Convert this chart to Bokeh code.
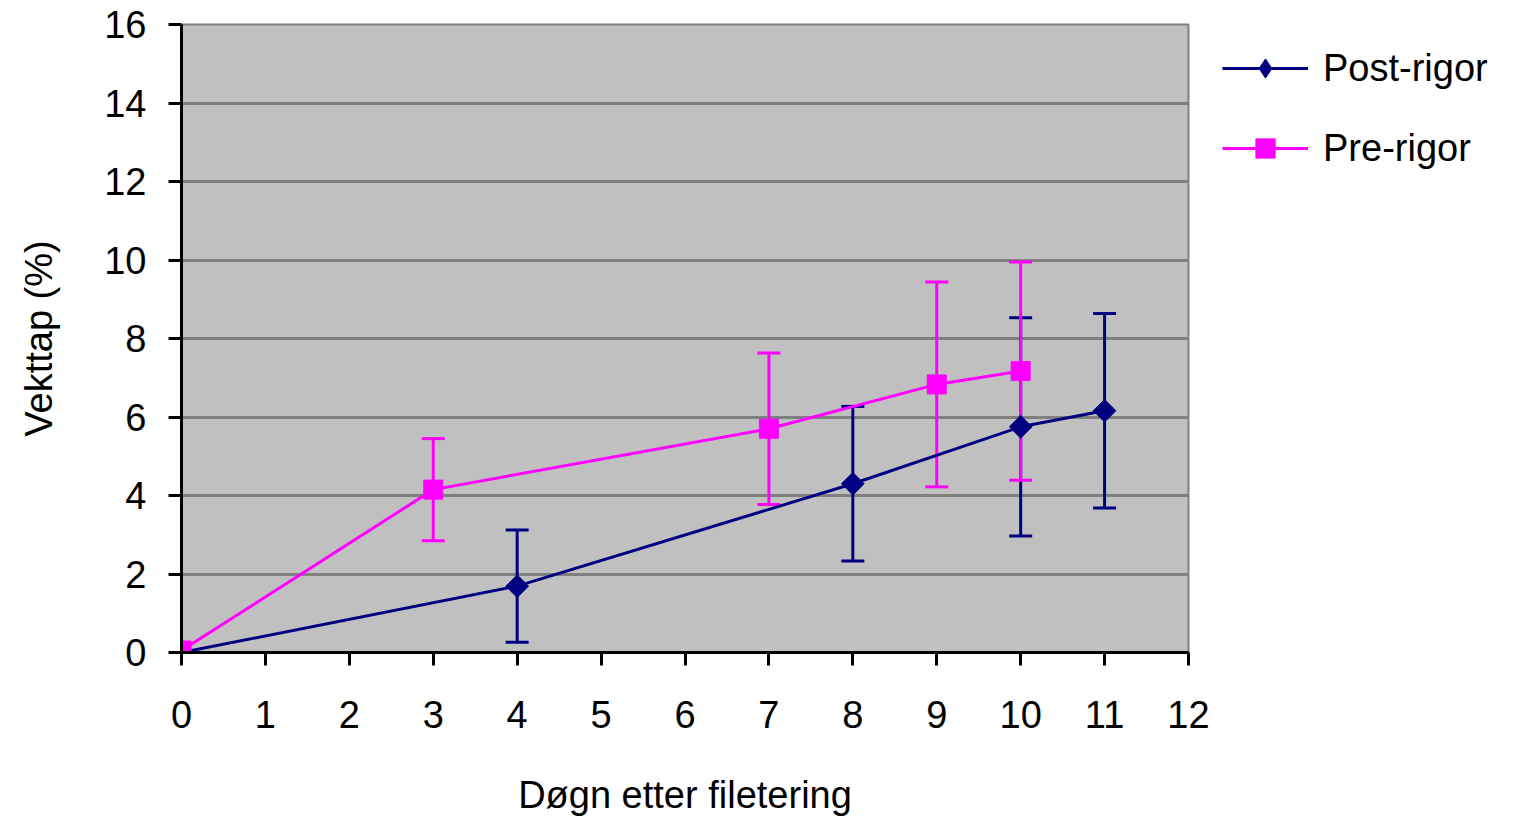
import numpy as np
from bokeh.plotting import figure
from bokeh.layouts import row
from bokeh.models import (ColumnDataSource, Whisker, TeeHead, Legend, LegendItem,
                          FixedTicker, Range1d)
from bokeh.embed import file_html
from bokeh.resources import INLINE

# ---- data ----
days_post = [0, 4, 8, 10, 11]
loss_post = [0.0, 1.69, 4.30, 5.75, 6.16]
err_post = [0.0, 1.43, 1.97, 2.78, 2.48]

days_pre = [0, 3, 7, 9, 10]
loss_pre = [0.05, 4.15, 5.70, 6.83, 7.17]
err_pre = [0.0, 1.30, 1.93, 2.61, 2.78]

x_ticks = list(range(0, 13))
y_ticks = list(range(0, 17, 2))

NAVY = "#000080"
MAGENTA = "#FF00FF"
FONT = "Liberation Sans"
FS = "38px"

src_post = ColumnDataSource(dict(
    x=days_post, y=loss_post,
    lo=[v - e for v, e in zip(loss_post, err_post)],
    hi=[v + e for v, e in zip(loss_post, err_post)]))
src_pre = ColumnDataSource(dict(
    x=days_pre, y=loss_pre,
    lo=[v - e for v, e in zip(loss_pre, err_pre)],
    hi=[v + e for v, e in zip(loss_pre, err_pre)]))

# ---------------- main chart ----------------
p = figure(width=1215, height=831, output_backend="svg", toolbar_location=None,
           x_range=Range1d(0, 12), y_range=Range1d(0, 16),
           min_border_left=181, min_border_right=27,
           min_border_top=24, min_border_bottom=179)

p.background_fill_color = "#C0C0C0"
p.border_fill_color = "white"
p.outline_line_color = "#808080"
p.outline_line_width = 2

p.xgrid.grid_line_color = None
p.ygrid.grid_line_color = "#808080"
p.ygrid.grid_line_width = 3

for ax in (p.xaxis[0], p.yaxis[0]):
    ax.axis_line_color = "black"
    ax.axis_line_width = 3
    ax.major_tick_line_color = "black"
    ax.major_tick_line_width = 3
    ax.major_tick_in = 0
    ax.major_tick_out = 13
    ax.minor_tick_line_color = None
    ax.major_label_text_font = FONT
    ax.major_label_text_font_size = FS
    ax.major_label_text_color = "black"
    ax.axis_label_text_font = FONT
    ax.axis_label_text_font_size = FS
    ax.axis_label_text_font_style = "normal"
    ax.axis_label_text_color = "black"

p.xaxis[0].ticker = FixedTicker(ticks=x_ticks)
p.yaxis[0].ticker = FixedTicker(ticks=y_ticks)
p.xaxis[0].major_label_standoff = 35
p.yaxis[0].major_label_standoff = 22
p.xaxis[0].axis_label = "Døgn etter filetering"
p.yaxis[0].axis_label = "Vekttap (%)"
p.xaxis[0].axis_label_standoff = 43
p.yaxis[0].axis_label_standoff = 41

# error bars
for src, col in ((src_post, NAVY), (src_pre, MAGENTA)):
    w = Whisker(source=src, base="x", upper="hi", lower="lo", dimension="height",
                line_color=col, line_width=3,
                upper_head=TeeHead(size=23, line_color=col, line_width=3),
                lower_head=TeeHead(size=23, line_color=col, line_width=3))
    p.add_layout(w)

p.line("x", "y", source=src_post, line_color=NAVY, line_width=3)
p.scatter("x", "y", source=src_post, marker="square", angle=np.pi / 4,
          size=16, fill_color=NAVY, line_color=NAVY)
p.line("x", "y", source=src_pre, line_color=MAGENTA, line_width=3)
p.scatter("x", "y", source=src_pre, marker="square", size=19,
          fill_color=MAGENTA, line_color=MAGENTA)

# ---------------- legend panel ----------------
lg = figure(width=310, height=831, output_backend="svg", toolbar_location=None,
            x_range=Range1d(0, 1), y_range=Range1d(0, 1),
            x_axis_type=None, y_axis_type=None,
            min_border_left=0, min_border_right=0, min_border_top=24,
            min_border_bottom=179)
lg.outline_line_color = None
lg.background_fill_color = "white"
lg.border_fill_color = "white"

kl_post = lg.line("x", "y", source=src_post, line_color=NAVY, line_width=3, visible=False)
km_post = lg.scatter("x", "y", source=src_post, marker="diamond", size=24,
                     fill_color=NAVY, line_color=NAVY, visible=False)
kl_pre = lg.line("x", "y", source=src_pre, line_color=MAGENTA, line_width=3, visible=False)
km_pre = lg.scatter("x", "y", source=src_pre, marker="square", size=19,
                    fill_color=MAGENTA, line_color=MAGENTA, visible=False)

legend = Legend(items=[LegendItem(label="Post-rigor", renderers=[kl_post, km_post]),
                       LegendItem(label="Pre-rigor", renderers=[kl_pre, km_pre])],
                location=(7, 480))
legend.label_text_font = FONT
legend.label_text_font_size = FS
legend.label_text_color = "black"
legend.glyph_width = 86
legend.glyph_height = 48
legend.label_height = 48
legend.label_standoff = 15
legend.spacing = 32
legend.padding = 0
legend.margin = 0
legend.background_fill_alpha = 0
legend.border_line_alpha = 0
lg.add_layout(legend)

layout = row(p, lg)
open("out.html", "w").write(file_html(layout, INLINE))
